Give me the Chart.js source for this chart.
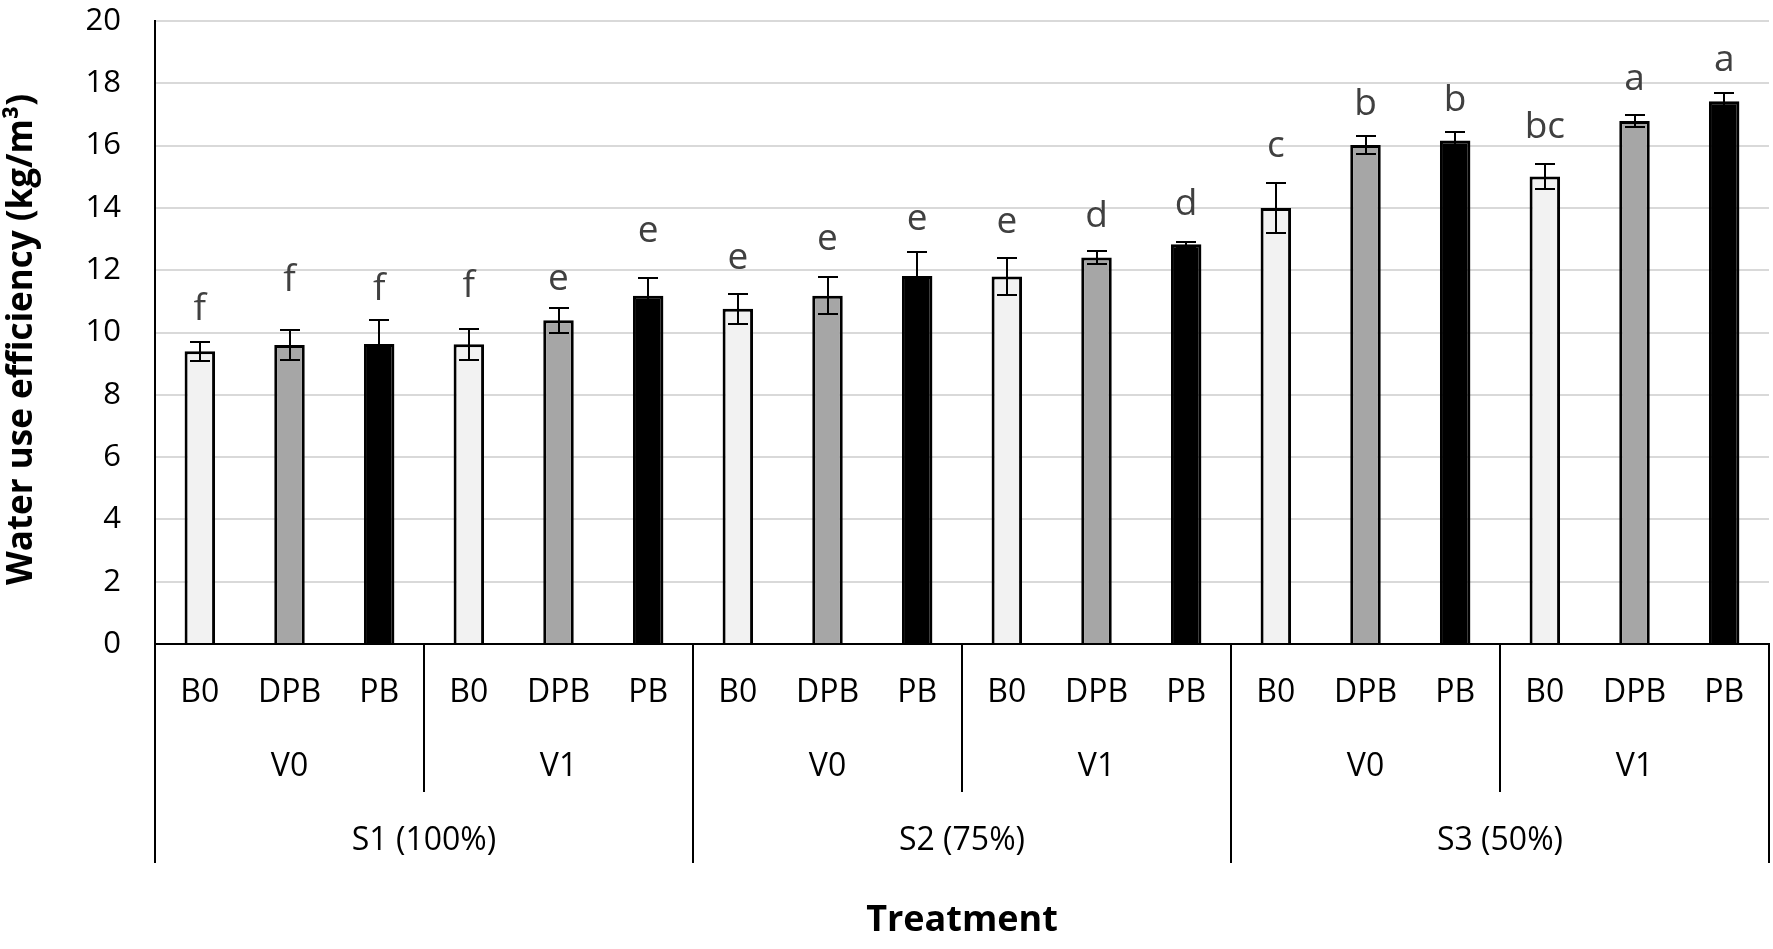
<!DOCTYPE html>
<html>
<head>
<meta charset="utf-8">
<script src="https://cdn.jsdelivr.net/npm/chart.js@4/dist/chart.umd.min.js"></script>
<style>
  html, body { margin: 0; padding: 0; background: #fff; }
  #wue-chart { display: block; }
</style>
</head>
<body>
<canvas id="wue-chart" width="1773" height="949"></canvas>
<script>
// Water use efficiency by treatment — grouped category axis (S > V > B)
const treatments = ['B0', 'DPB', 'PB', 'B0', 'DPB', 'PB', 'B0', 'DPB', 'PB',
                    'B0', 'DPB', 'PB', 'B0', 'DPB', 'PB', 'B0', 'DPB', 'PB'];
const varieties  = ['V0', 'V1', 'V0', 'V1', 'V0', 'V1'];
const regimes    = ['S1 (100%)', 'S2 (75%)', 'S3 (50%)'];

const wue    = [9.40, 9.60, 9.63, 9.62, 10.39, 11.18, 10.76, 11.18, 11.81,
                11.80, 12.41, 12.83, 14.00, 16.02, 16.16, 15.01, 16.79, 17.42];
const wueErr = [0.30, 0.48, 0.78, 0.49, 0.39, 0.58, 0.49, 0.60, 0.78,
                0.60, 0.20, 0.09, 0.79, 0.30, 0.28, 0.39, 0.20, 0.27];

// significance letters and the value their baseline sits at
const letters    = ['f', 'f', 'f', 'f', 'e', 'e', 'e', 'e', 'e',
                    'e', 'd', 'd', 'c', 'b', 'b', 'bc', 'a', 'a'];
const letterBase = [10.40, 11.33, 11.03, 11.13, 11.37, 12.92, 12.04, 12.65, 13.29,
                    13.18, 13.39, 13.77, 15.65, 16.98, 17.11, 16.24, 17.78, 18.38];

const yTicks = [0, 2, 4, 6, 8, 10, 12, 14, 16, 18, 20];

const FILL = { B0: '#f2f2f2', DPB: '#a6a6a6', PB: '#000000' };
const FONT = '"Open Sans", "Noto Sans", sans-serif';

const errorBarPlugin = {
  id: 'errorBars',
  afterDatasetsDraw(chart) {
    const { ctx, scales: { y } } = chart;
    const bars = chart.getDatasetMeta(0).data;
    ctx.save();
    ctx.strokeStyle = '#000';
    ctx.lineWidth = 2;
    bars.forEach((bar, i) => {
      const hi = Math.round(y.getPixelForValue(wue[i] + wueErr[i]));
      const lo = Math.round(y.getPixelForValue(wue[i] - wueErr[i]));
      const cx = Math.round(bar.x);
      ctx.beginPath();
      ctx.moveTo(cx, hi); ctx.lineTo(cx, lo);
      ctx.moveTo(cx - 10, hi); ctx.lineTo(cx + 10, hi);
      ctx.moveTo(cx - 10, lo); ctx.lineTo(cx + 10, lo);
      ctx.stroke();
    });
    ctx.fillStyle = '#404040';
    ctx.font = '37px ' + FONT;
    ctx.textAlign = 'center';
    ctx.textBaseline = 'alphabetic';
    bars.forEach((bar, i) => {
      ctx.fillText(letters[i], bar.x, y.getPixelForValue(letterBase[i]));
    });
    ctx.restore();
  },
};

const groupAxisPlugin = {
  id: 'groupAxis',
  afterDraw(chart) {
    const { ctx, chartArea: area, scales: { x } } = chart;
    const n = treatments.length;
    const px = i => x.getPixelForValue(i);
    const edge = i => i <= 0 ? area.left : i >= n ? area.right : (px(i - 1) + px(i)) / 2;

    ctx.save();
    ctx.fillStyle = '#000';
    ctx.textAlign = 'center';
    ctx.textBaseline = 'middle';
    ctx.font = '32px ' + FONT;
    treatments.forEach((t, i) => ctx.fillText(t, px(i), area.bottom + 49));
    varieties.forEach((v, g) => ctx.fillText(v, (edge(g * 3) + edge(g * 3 + 3)) / 2, area.bottom + 123));
    regimes.forEach((s, g) => ctx.fillText(s, (edge(g * 6) + edge(g * 6 + 6)) / 2, area.bottom + 197));

    // group dividers: short between V groups, long between S groups
    ctx.strokeStyle = '#000';
    ctx.lineWidth = 2;
    for (let i = 0; i <= n; i += 3) {
      const xx = Math.round(edge(i));
      ctx.beginPath();
      ctx.moveTo(xx, area.bottom);
      ctx.lineTo(xx, area.bottom + (i % 6 === 0 ? 219 : 148));
      ctx.stroke();
    }

    ctx.font = 'bold 36px ' + FONT;
    ctx.fillText('Treatment', (area.left + area.right) / 2, area.bottom + 277);

    // y title, a little below the plot centre as in the original
    ctx.translate(22, (area.top + area.bottom) / 2 + 7);
    ctx.rotate(-Math.PI / 2);
    ctx.font = 'bold 35px ' + FONT;
    ctx.fillText('Water use efficiency (kg/m³)', 0, 0);
    ctx.restore();
  },
};

new Chart(document.getElementById('wue-chart').getContext('2d'), {
  type: 'bar',
  data: {
    labels: treatments,
    datasets: [{
      label: 'WUE',
      data: wue,
      backgroundColor: treatments.map(t => FILL[t]),
      borderColor: '#000',
      borderWidth: 3,
      barPercentage: 0.34,
      categoryPercentage: 1,
    }],
  },
  options: {
    responsive: false,
    animation: false,
    devicePixelRatio: 1,
    layout: { padding: { top: 21, right: 4, bottom: 305, left: 0 } },
    plugins: {
      legend: { display: false },
      tooltip: { enabled: false },
    },
    scales: {
      x: {
        ticks: { display: false },
        grid: { display: false },
        border: { color: '#000', width: 2 },
        afterFit: s => { s.height = 0; s.paddingLeft = 0; s.paddingRight = 0; },
      },
      y: {
        min: 0,
        max: 20,
        afterBuildTicks: s => { s.ticks = yTicks.map(v => ({ value: v })); },
        afterFit: s => { s.width = 155; s.paddingTop = 0; s.paddingBottom = 0; },
        ticks: {
          padding: 34,
          color: '#000',
          font: { family: FONT, size: 31 },
        },
        grid: { color: '#d9d9d9', lineWidth: 2, drawTicks: false },
        border: { color: '#000', width: 2 },
      },
    },
  },
  plugins: [errorBarPlugin, groupAxisPlugin],
});
</script>
</body>
</html>
